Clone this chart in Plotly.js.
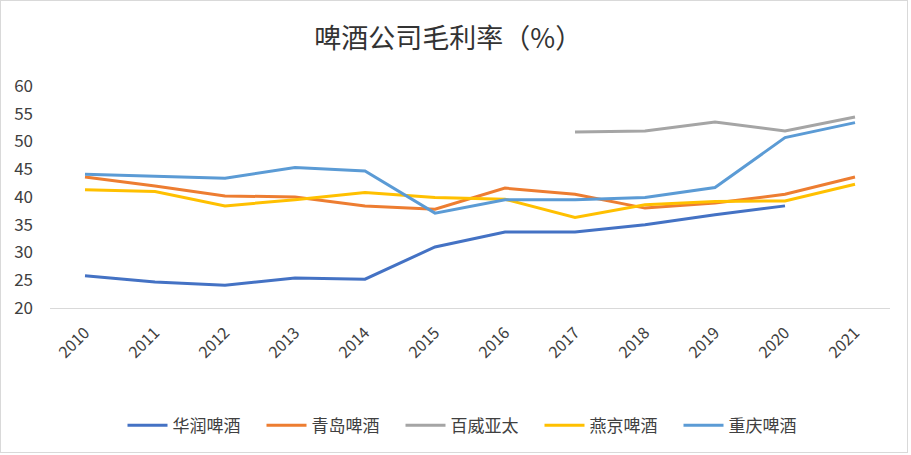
<!DOCTYPE html>
<html>
<head>
<meta charset="utf-8">
<script src="https://cdn.plot.ly/plotly-3.0.1.min.js"></script>
<style>
html,body{margin:0;padding:0;background:#fff;}
#wrap{position:relative;width:911px;height:455px;}
#chart{width:911px;height:455px;}
#frame{position:absolute;left:0;top:0;width:908px;height:453px;border:1px solid #d9d9d9;pointer-events:none;box-sizing:border-box;}
</style>
</head>
<body>
<div id="wrap"><div id="chart"></div><div id="frame"></div></div>
<script>
const years = ['2010','2011','2012','2013','2014','2015','2016','2017','2018','2019','2020','2021'];
const huarun = [25.8, 24.7, 24.1, 25.4, 25.2, 31.0, 33.7, 33.7, 35.0, 36.8, 38.4, null];
const qingdao = [43.6, 42.0, 40.2, 40.0, 38.4, 37.8, 41.6, 40.5, 38.0, 38.9, 40.5, 43.6];
const baiwei = [null, null, null, null, null, null, null, 51.7, 51.9, 53.5, 51.9, 54.4];
const yanjing = [41.3, 41.0, 38.4, 39.5, 40.8, 39.9, 39.6, 36.3, 38.6, 39.2, 39.3, 42.3];
const chongqing = [44.1, 43.8, 43.4, 45.3, 44.7, 37.1, 39.5, 39.5, 39.9, 41.7, 50.7, 53.4];
const names = ['华润啤酒','青岛啤酒','百威亚太','燕京啤酒','重庆啤酒'];
const colors = ['#4472C4','#ED7D31','#A5A5A5','#FFC000','#5B9BD5'];
const series = [huarun, qingdao, baiwei, yanjing, chongqing];

const traces = series.map((s, i) => ({
  x: years, y: s, name: names[i], type: 'scatter', mode: 'lines',
  line: {color: colors[i], width: 3}, connectgaps: false
}));

const font = "'Noto Sans CJK SC', 'Microsoft YaHei', sans-serif";
const layout = {
  width: 911, height: 455,
  margin: {l: 50, r: 21, t: 86, b: 147},
  paper_bgcolor: '#fff', plot_bgcolor: '#fff',
  font: {family: font, color: '#595959', size: 13},
  title: {text: '啤酒公司毛利率（%）', font: {family: font, size: 27, color: '#333'}, x: 0.492, xanchor: 'center', y: 0.915, yanchor: 'middle'},
  xaxis: {type: 'category', range: [-0.5, 11.5], showgrid: false, zeroline: false,
    showline: true, linecolor: '#d9d9d9', linewidth: 1, ticks: '', tickangle: -45,
    ticklabelstandoff: 8, tickfont: {size: 16, color: '#404040'}},
  yaxis: {range: [20, 60], dtick: 5, showgrid: false, zeroline: false, showline: false,
    ticks: '', ticklabelstandoff: 16, tickfont: {size: 17, color: '#404040'}},
  legend: {orientation: 'h', x: 0.5, xanchor: 'center', y: -0.53, yanchor: 'middle',
    font: {size: 17, color: '#404040'}, itemwidth: 40, entrywidth: 84, entrywidthmode: 'pixels'},
  showlegend: true
};
Plotly.newPlot('chart', traces, layout, {displayModeBar: false, staticPlot: true});
</script>
</body>
</html>
